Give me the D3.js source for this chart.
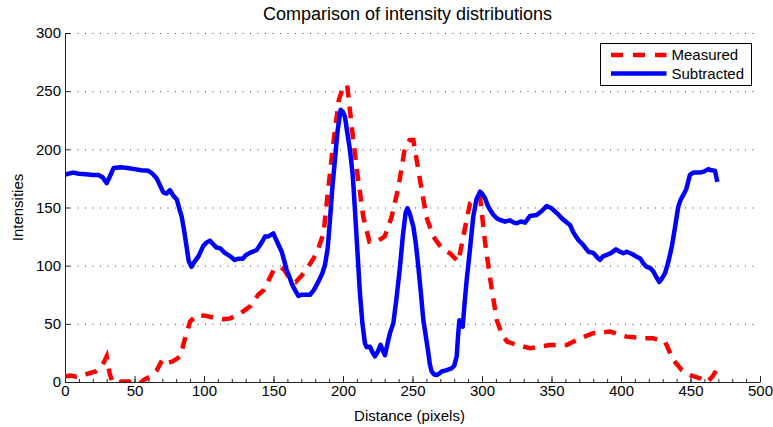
<!DOCTYPE html>
<html>
<head>
<meta charset="utf-8">
<script src="https://cdn.jsdelivr.net/npm/d3@7"></script>
<style>
  body { margin: 0; background: #fff; }
  svg { display: block; font-family: "Liberation Sans", Arial, Helvetica, sans-serif; }
</style>
</head>
<body>
<svg id="chart"></svg>
<script>
// values
const measuredX = [0, 4, 8, 12, 16, 22, 26, 28, 30, 32, 34, 38, 42, 46, 50, 54, 57, 61, 66, 70, 73, 78, 83, 86, 90, 95, 102, 109, 114, 119, 126, 133, 139, 143, 150, 155, 158, 162, 166, 170, 175, 181, 186, 189, 193, 197, 200, 203, 206, 210, 214.6, 219, 224, 230, 235, 240, 244.6, 248, 250.6, 255, 260, 265, 271, 277, 283, 286.5, 291.4, 295, 298.6, 302, 306, 310.6, 314, 318, 325, 334.5, 349, 361, 370.5, 380, 392, 404, 416, 423, 431.7, 437.6, 443.7, 449.6, 456.8, 462, 466, 470];
const measuredY = [5, 5.5, 4.6, 5, 7, 9, 13, 17, 22, 8, 0, -1, 0.5, 0.5, -2, -1, 2, 4.6, 10, 19, 16, 18, 22, 36, 52, 57.6, 56.7, 54.7, 54, 54.7, 59, 64.7, 75, 79, 96, 99, 96, 87.7, 86, 91, 99, 110.6, 127.8, 162, 205, 242.5, 253, 255.4, 222.4, 182.3, 142, 120.6, 120.6, 125, 142, 168, 202, 208, 208, 176.5, 142, 125, 115, 110.6, 103.4, 125, 153.6, 158, 159.3, 122, 87.7, 53.3, 42, 34.7, 32, 29, 31.8, 31.8, 37.6, 41.9, 43.3, 39, 37.6, 37.6, 34.7, 18.9, 10.3, 6, 3.2, 0, 5, 13];

const subtractedX = [0, 2, 6, 10, 15, 20, 24, 27, 30, 32, 35, 40, 45, 50, 55, 60, 63, 66, 68, 70.7, 73, 75.5, 78, 80.4, 82, 84, 86, 87.5, 89, 91, 93, 96, 99.5, 102, 104.3, 107, 109, 111.5, 115, 119, 122, 125, 128, 130, 133, 137.9, 141, 143.9, 146, 149.9, 152, 155.9, 158, 159.5, 161, 163, 165, 167.9, 170, 173, 176.3, 179, 182.2, 185, 187.1, 189, 190.6, 192.4, 194.2, 196, 198.3, 200, 201.4, 203, 205, 207, 208.6, 210.5, 212.2, 214, 215.8, 217, 219.4, 221, 223, 225, 227, 229, 230.2, 232, 233.8, 236.2, 238.5, 241, 243, 245, 246.3, 248, 250.6, 252.5, 254.2, 256, 257.8, 259.5, 261.4, 262.5, 263.8, 265.5, 267.4, 269, 271, 274, 278.2, 280, 281.8, 282.8, 283.7, 285, 286.1, 287.5, 289, 291, 293.7, 296, 298.6, 300, 302.2, 304, 305.8, 308, 310.6, 313, 316.5, 320, 323, 325, 328, 331, 334.5, 339.3, 343, 346.5, 350.1, 354, 358, 363.3, 366, 369.3, 372, 376.5, 380, 383, 384.9, 387, 389.7, 393, 396.4, 399, 401.7, 404, 408, 411.3, 414, 416, 418.5, 421, 423.3, 425.5, 427.6, 429.5, 431.7, 434, 436.5, 439, 441.2, 443, 445.3, 447, 449.6, 452, 456.8, 460, 462.8, 465, 467.6, 469.3];
const subtractedY = [178, 179, 180, 179, 178.5, 178, 178, 176, 171, 176, 184, 184.5, 184, 183, 182, 181.5, 179, 175, 170, 163, 162, 165, 160, 157, 150, 142, 128, 116, 104, 99, 103, 108, 117, 120, 121.5, 118, 115.5, 115, 111, 108, 104.9, 106, 106, 109, 111, 113.5, 119, 125, 125, 127.8, 122, 112, 103, 96, 92, 85, 80, 74, 75, 75, 75, 79, 86, 93, 101, 115, 139, 168, 191, 215, 234, 232, 228, 215, 199.5, 178, 148, 110, 76, 50, 33, 30, 30.4, 26, 22, 26, 32, 26, 23, 33, 42, 50.5, 72, 99, 125, 145, 149.4, 145, 133.5, 118, 99, 77, 53, 40, 25, 15, 9, 6.5, 6, 7, 9, 10, 11.8, 14, 22, 40, 53, 51, 47.5, 68, 88, 110, 142, 157, 163.6, 162, 158, 152, 148, 144, 140.8, 139.3, 137.8, 139, 137, 136.5, 138, 137, 142.7, 143.6, 147, 151.3, 149.3, 145, 140, 135, 128, 122, 119, 112, 111, 107, 105, 108, 109.2, 111, 114, 112, 110.7, 112, 110, 107.7, 106, 102, 99, 98, 95, 90, 86, 89, 93.5, 103, 116, 134, 150.7, 157, 161.7, 166, 178, 180, 180, 181, 183, 182, 181.7, 172];

const seriesNames = ["Measured", "Subtracted"];
const xTicks = [0, 50, 100, 150, 200, 250, 300, 350, 400, 450, 500];
const yTicks = [0, 50, 100, 150, 200, 250, 300];

const width = 773;
const height = 427;
const margin = { top: 33, right: 13, bottom: 45, left: 65 };

const svg = d3.select("#chart")
  .attr("width", width)
  .attr("height", height);

const x = d3.scaleLinear()
  .domain([0, 500])
  .range([margin.left, width - margin.right]);

const y = d3.scaleLinear()
  .domain([0, 300])
  .range([height - margin.bottom, margin.top]);

// dotted horizontal grid
svg.append("g")
  .selectAll("line")
  .data(yTicks.filter((d) => d > 0))
  .join("line")
  .attr("x1", x(0) + 5)
  .attr("x2", x(500))
  .attr("y1", (d) => y(d) + 0.5)
  .attr("y2", (d) => y(d) + 0.5)
  .attr("stroke", "#444")
  .attr("stroke-width", 1)
  .attr("stroke-dasharray", "1,6.5");

// minor x ticks
svg.append("g")
  .attr("transform", `translate(0,${y(0)})`)
  .call(d3.axisBottom(x).tickValues(d3.range(0, 501, 10)).tickSize(-3).tickFormat(""))
  .call((g) => g.select(".domain").remove())
  .selectAll("line").attr("stroke", "#222");

// X axis
const xAxis = svg.append("g")
  .attr("transform", `translate(0,${y(0)})`)
  .call(d3.axisBottom(x).tickValues(xTicks).tickSizeInner(-6).tickSizeOuter(0).tickPadding(3));
xAxis.selectAll("text").attr("font-size", 15).attr("fill", "#000");

// Y axis
const yAxis = svg.append("g")
  .attr("transform", `translate(${x(0)},0)`)
  .call(d3.axisLeft(y).tickValues(yTicks).tickSizeInner(-5).tickSizeOuter(0).tickPadding(4));
yAxis.selectAll("text").attr("font-size", 15).attr("fill", "#000");

svg.selectAll(".domain").attr("stroke", "#222");
svg.selectAll(".tick line").attr("stroke", "#222");

// clip to plot area
svg.append("clipPath")
  .attr("id", "plot-clip")
  .append("rect")
  .attr("x", x(0))
  .attr("y", y(300))
  .attr("width", x(500) - x(0))
  .attr("height", y(0) - y(300));

const line = d3.line()
  .x((d) => x(d[0]))
  .y((d) => y(d[1]));

const plot = svg.append("g").attr("clip-path", "url(#plot-clip)");

plot.append("path")
  .datum(measuredX.map((v, i) => [v, measuredY[i]]))
  .attr("d", line)
  .attr("fill", "none")
  .attr("stroke", "#ff0000")
  .attr("stroke-width", 4.5)
  .attr("stroke-dasharray", "12,9");

plot.append("path")
  .datum(subtractedX.map((v, i) => [v, subtractedY[i]]))
  .attr("d", line)
  .attr("fill", "none")
  .attr("stroke", "#0000ff")
  .attr("stroke-width", 4.5)
  .attr("stroke-linejoin", "round");

// Title and axis labels
svg.append("text")
  .attr("x", (x(0) + x(500)) / 2 - 5)
  .attr("y", 20)
  .attr("text-anchor", "middle")
  .attr("font-size", 18)
  .text("Comparison of intensity distributions");

svg.append("text")
  .attr("x", (x(0) + x(500)) / 2 - 3)
  .attr("y", 421)
  .attr("text-anchor", "middle")
  .attr("font-size", 15)
  .text("Distance (pixels)");

svg.append("text")
  .attr("transform", `translate(23,${(y(0) + y(300)) / 2}) rotate(-90)`)
  .attr("text-anchor", "middle")
  .attr("font-size", 15)
  .text("Intensities");

// Legend
const legend = svg.append("g").attr("transform", "translate(600.5,43.5)");
legend.append("rect")
  .attr("width", 151)
  .attr("height", 42)
  .attr("fill", "#fff")
  .attr("stroke", "#000");

const legendStyles = [
  { color: "#ff0000", dash: "12,10" },
  { color: "#0000ff", dash: null },
];

seriesNames.forEach((name, i) => {
  const ly = 11.5 + i * 18.5;
  legend.append("line")
    .attr("x1", 10.5)
    .attr("x2", 66)
    .attr("y1", ly)
    .attr("y2", ly)
    .attr("stroke", legendStyles[i].color)
    .attr("stroke-width", 4.5)
    .attr("stroke-dasharray", legendStyles[i].dash);
  legend.append("text")
    .attr("x", 71)
    .attr("y", ly)
    .attr("dy", "0.35em")
    .attr("font-size", 15)
    .text(name);
});
</script>
</body>
</html>
